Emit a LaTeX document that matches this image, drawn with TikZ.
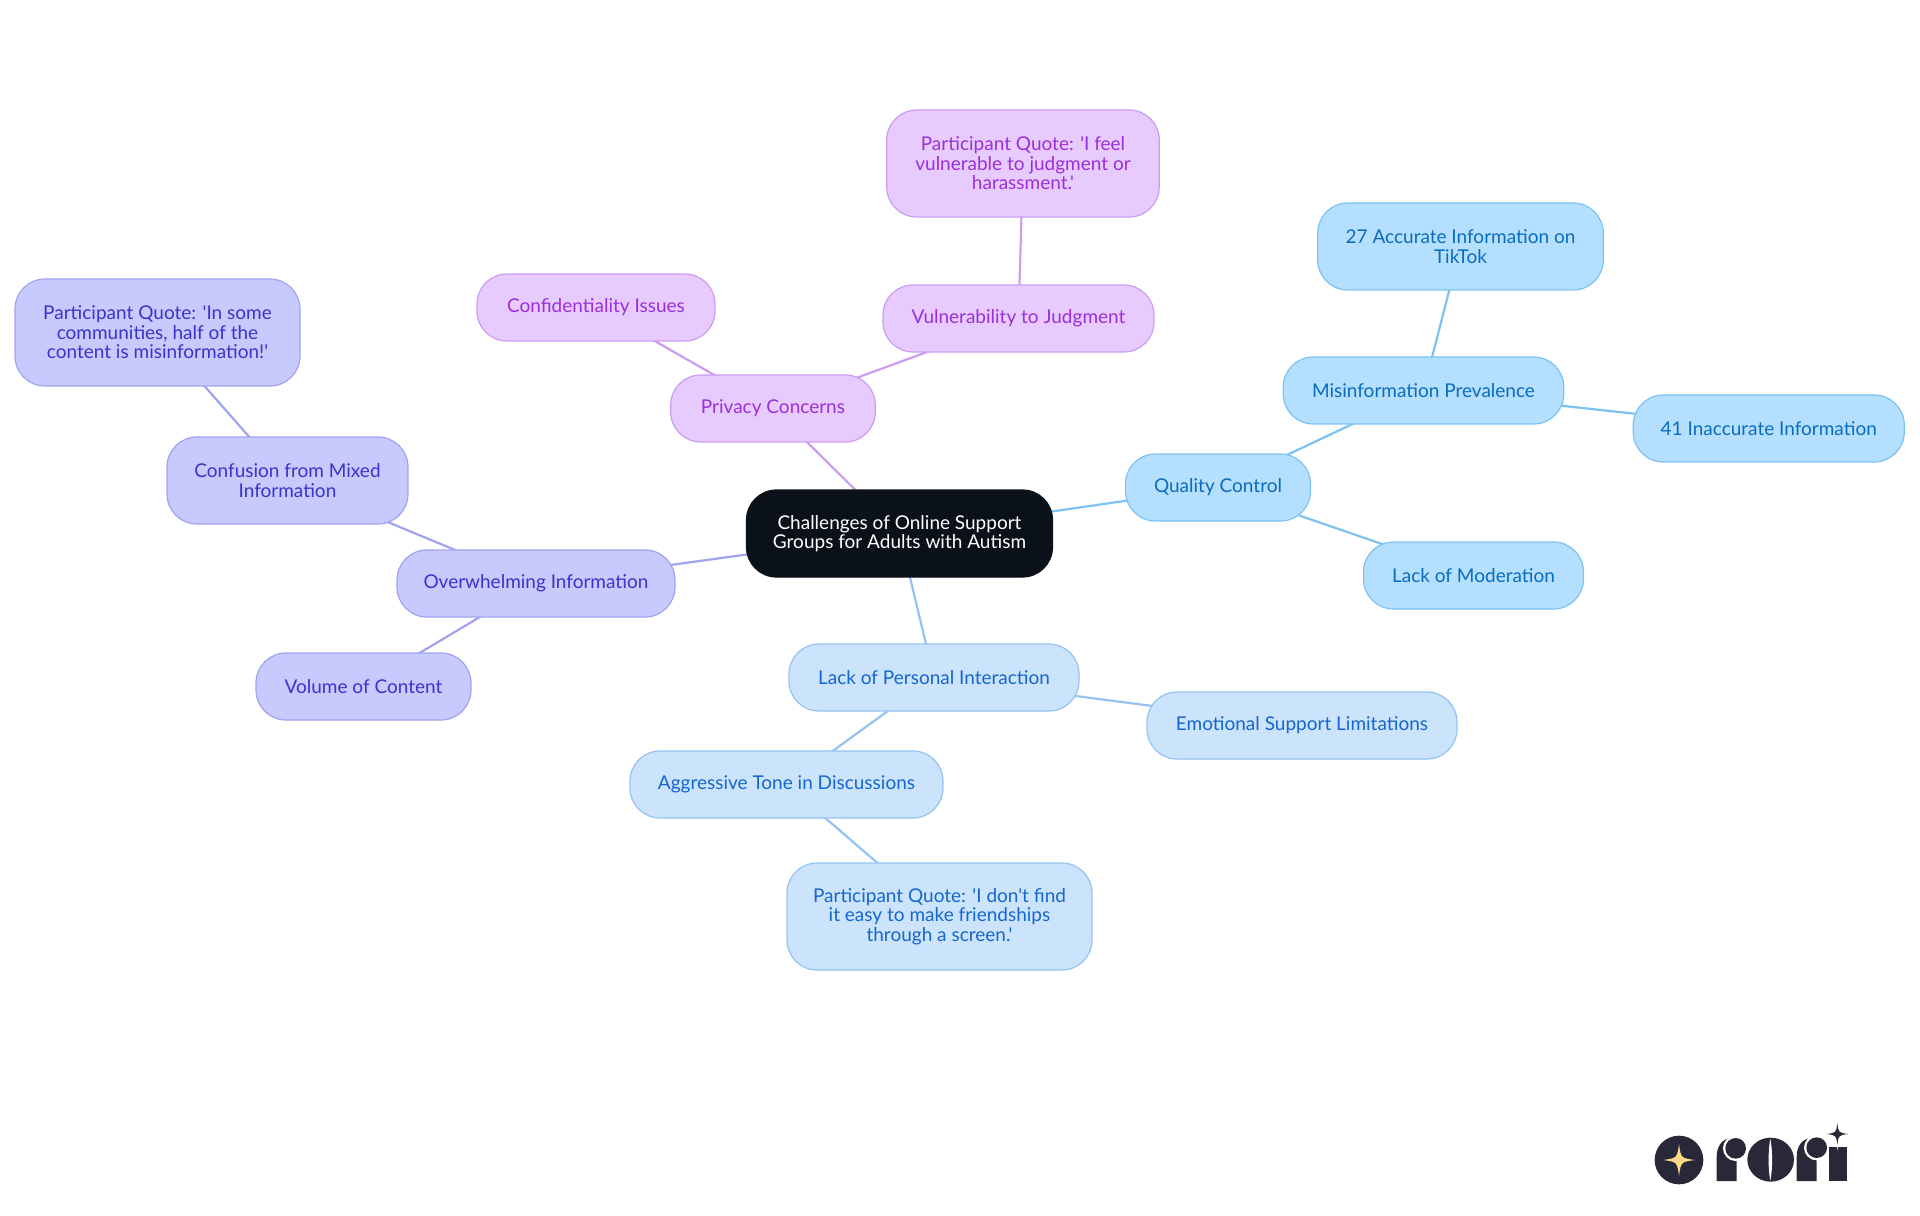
\documentclass[tikz,border=0pt]{standalone}
\usepackage{fontspec}
\usepackage{xcolor}
\usepackage{tikz}
\newfontfamily\mapfont{Lato}
\definecolor{night}{HTML}{0B1119}
\definecolor{skyfill}{HTML}{B5DFFE}
\definecolor{skyline}{HTML}{7CC2F2}
\definecolor{skytext}{HTML}{0A6CBE}
\definecolor{bluefill}{HTML}{CCE3FC}
\definecolor{blueline}{HTML}{94C3F3}
\definecolor{bluetext}{HTML}{1466D0}
\definecolor{indfill}{HTML}{C8CAFE}
\definecolor{indline}{HTML}{A0A3F0}
\definecolor{indtext}{HTML}{3A33CC}
\definecolor{purfill}{HTML}{E8CBFE}
\definecolor{purline}{HTML}{CB9CF2}
\definecolor{purtext}{HTML}{9A2FDB}
\definecolor{logoink}{HTML}{282838}
\definecolor{logostar}{HTML}{FFD98A}
\usetikzlibrary{positioning,backgrounds}

\begin{document}
\begin{tikzpicture}[
  box/.style={rectangle,rounded corners=15pt,minimum height=33.5pt,inner sep=0pt,outer sep=0pt,
              align=center,font=\mapfont\fontsize{9.5}{9.75}\selectfont,line width=0.6pt},
  two/.style={minimum height=43.5pt},
  three/.style={minimum height=53.5pt},
  sky/.style={box,fill=skyfill,draw=skyline,text=skytext},
  azure/.style={box,fill=bluefill,draw=blueline,text=bluetext},
  indigo/.style={box,fill=indfill,draw=indline,text=indtext},
  mauve/.style={box,fill=purfill,draw=purline,text=purtext},
  link/.style={line width=1.1pt},
  sparkle/.pic={\fill (0,1) .. controls (.12,.12) .. (1,0) .. controls (.12,-.12) .. (0,-1)
    .. controls (-.12,-.12) .. (-1,0) .. controls (-.12,.12) .. cycle;}]
  \useasboundingbox (-449.75pt,266.75pt) rectangle (510.25pt,-340.75pt);
  \node[box,two,fill=night,draw=night,text=white,minimum width=153pt] (root)
    {Challenges of Online Support\\Groups for Adults with Autism};
  % right branch
  \node[sky,minimum width=92.5pt,right=36.5pt of root,yshift=23pt] (qc){Quality Control};
  \node[sky,minimum width=140.25pt,above=15pt of qc,xshift=102.75pt] (mp){Misinformation Prevalence};
  \node[sky,two,minimum width=142.75pt,above=33.5pt of mp,xshift=18.5pt] (ta){27 Accurate Information on\\TikTok};
  \node[sky,minimum width=135.5pt,right=34.75pt of mp,yshift=-19pt] (ia){41 Inaccurate Information};
  \node[sky,minimum width=110pt,below=10.5pt of qc,xshift=127.75pt] (lm){Lack of Moderation};
  % lower branch
  \node[azure,minimum width=145pt,below=33.5pt of root,xshift=17.25pt] (lp){Lack of Personal Interaction};
  \node[azure,minimum width=155pt,right=34pt of lp,yshift=-24pt] (es){Emotional Support Limitations};
  \node[azure,minimum width=156.5pt,below=20pt of lp,xshift=-73.75pt] (ag){Aggressive Tone in Discussions};
  \node[azure,three,minimum width=152.5pt,below=22.5pt of ag,xshift=76.5pt] (qf)
    {Participant Quote: 'I don't find\\it easy to make friendships\\through a screen.'};
  % left branch
  \node[indigo,minimum width=139pt,left=35.75pt of root,yshift=-25pt] (ov){Overwhelming Information};
  \node[indigo,two,minimum width=120.5pt,above=13pt of ov,xshift=-124.25pt] (cf){Confusion from Mixed\\Information};
  \node[indigo,three,minimum width=142.5pt,above=25.5pt of cf,xshift=-65pt] (qm)
    {Participant Quote: 'In some\\communities, half of the\\content is misinformation!'};
  \node[indigo,minimum width=107.5pt,below=18pt of ov,xshift=-86.25pt] (vc){Volume of Content};
  % upper branch
  \node[mauve,minimum width=102.25pt,above=24pt of root,xshift=-63.25pt] (pc){Privacy Concerns};
  \node[mauve,minimum width=119pt,above=17pt of pc,xshift=-88.5pt] (ci){Confidentiality Issues};
  \node[mauve,minimum width=135.5pt,above=11.5pt of pc,xshift=122.75pt] (vj){Vulnerability to Judgment};
  \node[mauve,three,minimum width=136.25pt,above=34pt of vj,xshift=2.25pt] (qj)
    {Participant Quote: 'I feel\\vulnerable to judgment or\\harassment.'};
  \begin{scope}[on background layer]
    \draw[link,skyline](root.center)--(qc.center);\draw[link,skyline](qc.center)--(mp.center);
    \draw[link,skyline](mp.center)--(ta.center);\draw[link,skyline](mp.center)--(ia.center);
    \draw[link,skyline](qc.center)--(lm.center);
    \draw[link,blueline](root.center)--(lp.center);\draw[link,blueline](lp.center)--(es.center);
    \draw[link,blueline](lp.center)--(ag.center);\draw[link,blueline](ag.center)--(qf.center);
    \draw[link,indline](root.center)--(ov.center);\draw[link,indline](ov.center)--(cf.center);
    \draw[link,indline](cf.center)--(qm.center);\draw[link,indline](ov.center)--(vc.center);
    \draw[link,purline](root.center)--(pc.center);\draw[link,purline](pc.center)--(ci.center);
    \draw[link,purline](pc.center)--(vj.center);\draw[link,purline](vj.center)--(qj.center);
  \end{scope}
  % logo, in units of a third of a pixel
  \begin{scope}[shift={(360.25pt,-283.25pt)},x=0.16667pt,y=-0.16667pt]
    \fill[logoink] (177,180) circle [radius=73];
    \pic[logostar,scale=48] at (177,180) {sparkle};
    \fill[logoink] (290,243)--(290,170) .. controls (290,135) and (310,113) .. (340,113)--(350,113)--(350,243)--cycle;
    \fill[white] (347,145) circle [radius=38];
    \fill[logoink] (347,145) circle [radius=31];
    \fill[logoink] (452,179) ellipse [x radius=70,y radius=66];
    \fill[white] (451,116) .. controls (444,150) and (444,210) .. (451,242) .. controls (458,210) and (458,150) .. cycle;
    \fill[logoink] (530,243)--(530,170) .. controls (530,135) and (550,113) .. (580,113)--(590,113)--(590,243)--cycle;
    \fill[white] (590,143) circle [radius=38];
    \fill[logoink] (590,143) circle [radius=31];
    \fill[logoink] (627,140) rectangle (680,243);
    \pic[white,scale=50] at (652,102) {sparkle};
    \pic[logoink,scale=32] at (652,102) {sparkle};
  \end{scope}
\end{tikzpicture}
\end{document}
